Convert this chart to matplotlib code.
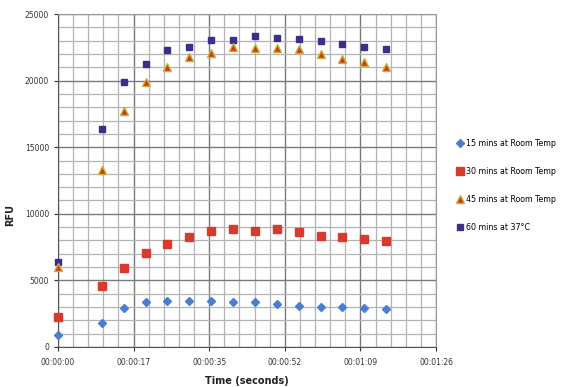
import matplotlib as mpl
from matplotlib import pyplot as plt
import numpy as np

mpl.rcParams["font.family"] = ["DejaVu Sans"]

# time in seconds
t = [0, 10, 15, 20, 25, 30, 35, 40, 45, 50, 55, 60, 65, 70, 75]
rt15 = [900, 1800, 2900, 3400, 3450, 3450, 3450, 3400, 3400, 3250, 3100, 3000, 3000, 2900, 2850]
rt30 = [2250, 4550, 5900, 7050, 7700, 8280, 8720, 8830, 8720, 8830, 8600, 8360, 8280, 8080, 7960]
rt45 = [5980, 13300, 17720, 19920, 21050, 21800, 22070, 22550, 22420, 22470, 22350, 22000, 21600, 21370, 21040]
c37 = [6380, 16400, 19870, 21250, 22300, 22550, 23050, 23050, 23350, 23220, 23100, 22950, 22720, 22500, 22350]

xtick_pos = [0, 17.28, 34.56, 51.84, 69.12, 86.4]
xtick_lab = ['00:00:00', '00:00:17', '00:00:35', '00:00:52', '00:01:09', '00:01:26']

fig = plt.figure(figsize=(5.63, 3.87), dpi=100)
ax = fig.add_axes([58/563, 40/387, 378/563, 333/387])

ax.plot(t, rt15, 'D', color='#4a7fd0', markersize=4.2, label='15 mins at Room Temp', zorder=3, clip_on=False)
ax.plot(t, rt30, 's', color='#d83a2c', markersize=5.2, label='30 mins at Room Temp', zorder=3, clip_on=False)
ax.plot(t, rt45, '^', color='#cc3b1f', markeredgecolor='#c8b22e', markeredgewidth=1.0,
        markersize=6, label='45 mins at Room Temp', zorder=4, clip_on=False)
ax.plot(t, c37, 's', color='#3c2f8c', markersize=5, label='60 mins at 37\u00b0C', zorder=3, clip_on=False)

ax.set_xlim(0, 86.4)
ax.set_ylim(0, 25000)
ax.set_xticks(xtick_pos)
ax.set_xticklabels(xtick_lab)
ax.set_xticks(np.arange(0, 86.5, 3.456), minor=True)
ax.set_yticks(np.arange(0, 25001, 5000))
ax.set_yticks(np.arange(0, 25001, 1000), minor=True)
ax.tick_params(axis='both', which='major', labelsize=5.5, colors='#333333', length=3, width=0.8)
ax.tick_params(axis='both', which='minor', length=0)
ax.tick_params(axis='x', pad=5)

ax.grid(which='minor', color='#b4b4b4', linewidth=0.9)
ax.grid(which='major', color='#7a7a7a', linewidth=1.0)
ax.set_axisbelow(True)
for s in ['top', 'right']:
    ax.spines[s].set_color('#9a9a9a')
for s in ['left', 'bottom']:
    ax.spines[s].set_color('#555555')

fig.text(10/563, 1-215/387, 'RFU', rotation=90, fontsize=7, fontweight='bold',
         ha='center', va='center', color='#222222')
fig.text(247/563, 1-381/387, 'Time (seconds)', fontsize=7, fontweight='bold',
         ha='center', va='center', color='#222222')

fig.legend(loc='upper left', bbox_to_anchor=(457/563, 1-139/387), frameon=False,
           fontsize=5.7, labelspacing=2.4, handlelength=0.8, handletextpad=0.3,
           borderaxespad=0, borderpad=0)

plt.savefig('out.png', dpi=100)
